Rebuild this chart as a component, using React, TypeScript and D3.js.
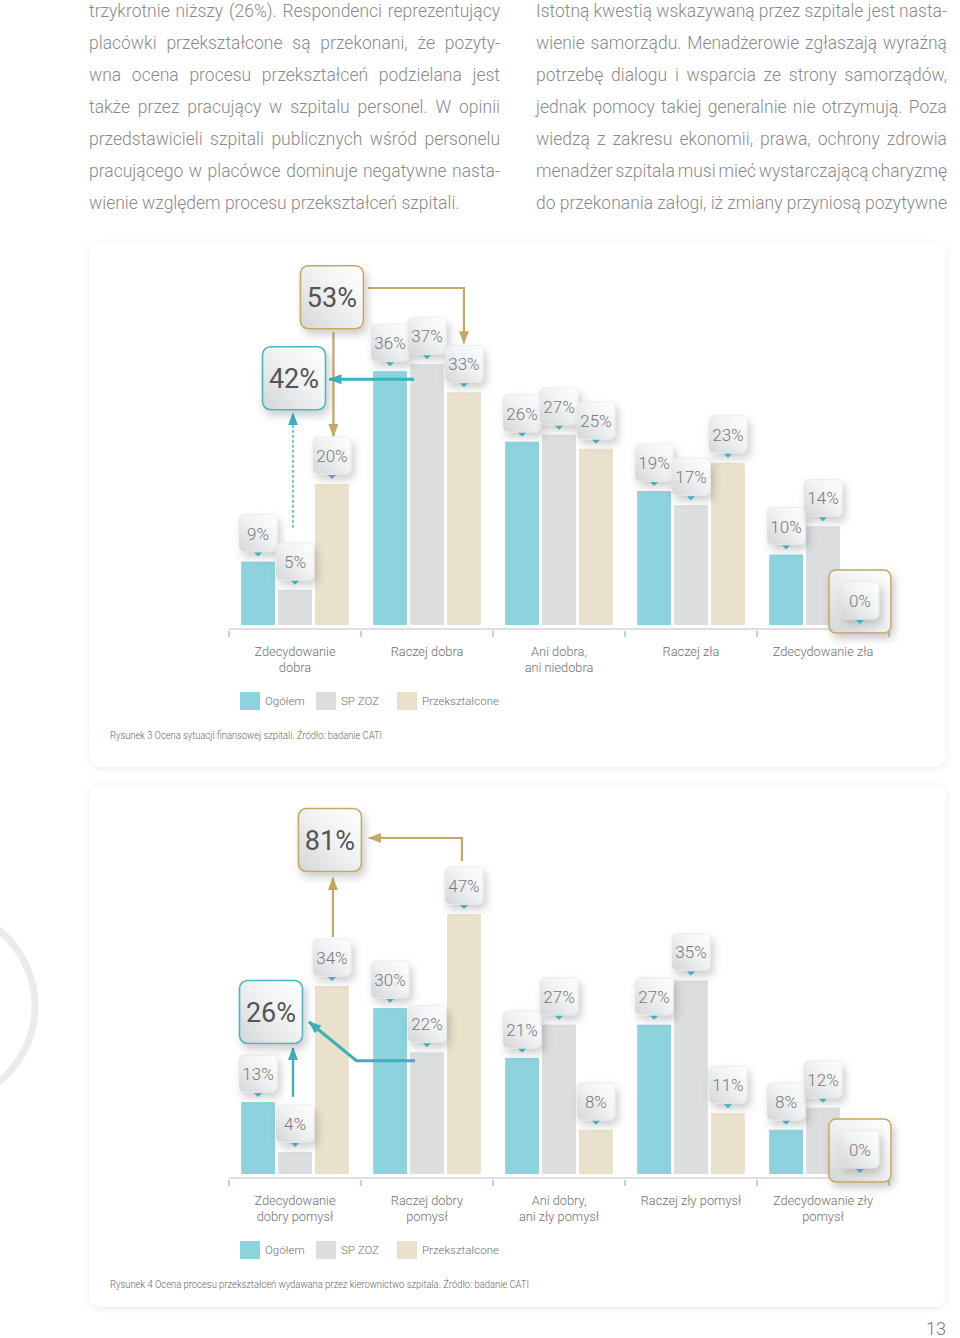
import React, { useEffect, useRef } from 'react';
import * as d3 from 'd3';

// series
const seriesNames = ['Ogółem', 'SP ZOZ', 'Przekształcone'];
const seriesColors = ['#8cd3dd', '#dcdddf', '#e9e1cb'];

// chart 1 - Ocena sytuacji finansowej
const categoryLabels1 = [
  ['Zdecydowanie', 'dobra'],
  ['Raczej dobra'],
  ['Ani dobra,', 'ani niedobra'],
  ['Raczej zła'],
  ['Zdecydowanie zła'],
];
const ogolem1 = [9, 36, 26, 19, 10];
const spzoz1 = [5, 37, 27, 17, 14];
const przeksztalcone1 = [20, 33, 25, 23, 0];
const caption1 = 'Rysunek 3 Ocena sytuacji finansowej szpitali. Źródło: badanie CATI';

// chart 2 - Ocena procesu przekształceń
const categoryLabels2 = [
  ['Zdecydowanie', 'dobry pomysł'],
  ['Raczej dobry', 'pomysł'],
  ['Ani dobry,', 'ani zły pomysł'],
  ['Raczej zły pomysł'],
  ['Zdecydowanie zły', 'pomysł'],
];
const ogolem2 = [13, 30, 21, 27, 8];
const spzoz2 = [4, 22, 27, 35, 12];
const przeksztalcone2 = [34, 47, 8, 11, 0];
const caption2 =
  'Rysunek 4 Ocena procesu przekształceń wydawana przez kierownictwo szpitala.  Źródło: badanie CATI';

// body text
const leftLines = [
  'trzykrotnie niższy (26%). Respondenci reprezentujący',
  'placówki przekształcone są przekonani, że pozyty-',
  'wna ocena procesu przekształceń podzielana jest',
  'także przez pracujący w szpitalu personel. W opinii',
  'przedstawicieli szpitali publicznych wśród personelu',
  'pracującego w placówce dominuje negatywne nasta-',
  'wienie względem procesu przekształceń szpitali.',
];
const rightLines = [
  'Istotną kwestią wskazywaną przez szpitale jest nasta-',
  'wienie samorządu. Menadżerowie zgłaszają wyraźną',
  'potrzebę dialogu i wsparcia ze strony samorządów,',
  'jednak pomocy takiej generalnie nie otrzymują. Poza',
  'wiedzą z zakresu ekonomii, prawa, ochrony zdrowia',
  'menadżer szpitala musi mieć wystarczającą charyzmę',
  'do przekonania załogi, iż zmiany przyniosą pozytywne',
];
const pageNumber = '13';

const FONT = "Roboto, 'Noto Sans', sans-serif";
const GOLD = '#c4a865';
const TEAL = '#3cb0bb';

export default function App() {
  const ref = useRef<SVGSVGElement>(null);

  useEffect(() => {
    const svg = d3.select(ref.current);
    svg.selectAll('*').remove();
    svg.attr('font-family', FONT);

    const defs = svg.append('defs');
    const cardShadow = defs
      .append('filter')
      .attr('id', 'cardShadow')
      .attr('x', '-5%')
      .attr('y', '-5%')
      .attr('width', '110%')
      .attr('height', '110%');
    cardShadow
      .append('feDropShadow')
      .attr('dx', 0)
      .attr('dy', 1)
      .attr('stdDeviation', 3)
      .attr('flood-color', '#000')
      .attr('flood-opacity', 0.09);

    const boxShadow = defs
      .append('filter')
      .attr('id', 'boxShadow')
      .attr('x', '-50%')
      .attr('y', '-50%')
      .attr('width', '200%')
      .attr('height', '200%');
    boxShadow
      .append('feDropShadow')
      .attr('dx', 3)
      .attr('dy', 5)
      .attr('stdDeviation', 4.5)
      .attr('flood-color', '#000')
      .attr('flood-opacity', 0.2);

    const grad = defs
      .append('linearGradient')
      .attr('id', 'boxGrad')
      .attr('x1', 0)
      .attr('y1', 1)
      .attr('x2', 1)
      .attr('y2', 0);
    grad.append('stop').attr('offset', 0).attr('stop-color', '#d3d6d8');
    grad.append('stop').attr('offset', 0.55).attr('stop-color', '#f1f2f3');
    grad.append('stop').attr('offset', 1).attr('stop-color', '#ffffff');

    const marker = (id: string, color: string) =>
      defs
        .append('marker')
        .attr('id', id)
        .attr('viewBox', '0 0 13 10')
        .attr('refX', 12)
        .attr('refY', 5)
        .attr('markerWidth', 13)
        .attr('markerHeight', 10)
        .attr('markerUnits', 'userSpaceOnUse')
        .attr('orient', 'auto')
        .append('path')
        .attr('d', 'M0,0 L13,5 L0,10 z')
        .attr('fill', color);
    marker('goldArrow', GOLD);
    marker('tealArrow', TEAL);

    // decorative ring at left edge
    svg
      .append('circle')
      .attr('cx', -63)
      .attr('cy', 1006)
      .attr('r', 98)
      .attr('fill', 'none')
      .attr('stroke', '#ebebeb')
      .attr('stroke-width', 7);

    // justified body text
    const textG = svg
      .append('g')
      .attr('font-size', 17.5)
      .attr('font-weight', 300)
      .attr('fill', '#8a8a8a');
    const writeColumn = (lines: string[], x: number, width: number, lastJustified: boolean) => {
      lines.forEach((line, li) => {
        const y = 17 + li * 32;
        const justify = lastJustified || li < lines.length - 1;
        if (!justify) {
          textG.append('text').attr('x', x).attr('y', y).text(line);
          return;
        }
        const words = line.split(' ');
        const nodes = words.map((w) => textG.append('text').attr('y', y).text(w));
        const widths = nodes.map((n) => (n.node() as SVGTextElement).getComputedTextLength());
        const gap = (width - d3.sum(widths)) / (words.length - 1);
        let cx = x;
        nodes.forEach((n, i) => {
          n.attr('x', cx);
          cx += widths[i] + gap;
        });
      });
    };
    writeColumn(leftLines, 89, 411, false);
    writeColumn(rightLines, 536, 411, true);

    svg
      .append('text')
      .attr('x', 946)
      .attr('y', 1335)
      .attr('text-anchor', 'end')
      .attr('font-size', 18)
      .attr('font-weight', 300)
      .attr('fill', '#777')
      .text(pageNumber);

    type ChartCfg = {
      cardY: number;
      cardH: number;
      baseline: number;
      yMax: number;
      yTop: number;
      labels: string[][];
      series: number[][];
      caption: string;
      captionWidth: number;
    };

    const drawChart = (cfg: ChartCfg) => {
      const g = svg.append('g');
      g.append('rect')
        .attr('x', 89)
        .attr('y', cfg.cardY)
        .attr('width', 857)
        .attr('height', cfg.cardH)
        .attr('rx', 12)
        .attr('fill', '#fff')
        .attr('filter', 'url(#cardShadow)');

      const x0 = d3.scaleBand<number>().domain(d3.range(cfg.labels.length)).range([229, 889]);
      const x1 = d3
        .scaleBand<number>()
        .domain(d3.range(cfg.series.length))
        .range([0, x0.bandwidth()])
        .paddingInner(0.085)
        .paddingOuter(0.33);
      const y = d3.scaleLinear().domain([0, cfg.yMax]).range([cfg.baseline, cfg.yTop]);
      const bw = x1.bandwidth();
      const cx = (i: number, s: number) => (x0(i) as number) + (x1(s) as number) + bw / 2;

      // bars
      cfg.series.forEach((vals, s) => {
        g.selectAll(null)
          .data(vals)
          .enter()
          .append('rect')
          .attr('x', (d, i) => (x0(i) as number) + (x1(s) as number))
          .attr('y', (d) => y(d))
          .attr('width', bw)
          .attr('height', (d) => cfg.baseline - y(d))
          .attr('fill', seriesColors[s]);
      });

      // axis
      g.append('line')
        .attr('x1', 229)
        .attr('x2', 889)
        .attr('y1', cfg.baseline + 4)
        .attr('y2', cfg.baseline + 4)
        .attr('stroke', '#dedfe0')
        .attr('stroke-width', 2);
      const tickXs = x0.domain().map((i) => x0(i) as number).concat([889]);
      g.selectAll(null)
        .data(tickXs)
        .enter()
        .append('line')
        .attr('x1', (d) => d)
        .attr('x2', (d) => d)
        .attr('y1', cfg.baseline + 6)
        .attr('y2', cfg.baseline + 12)
        .attr('stroke', '#86c6cc')
        .attr('stroke-width', 1.3);

      // category labels
      cfg.labels.forEach((lines, i) => {
        const t = g
          .append('text')
          .attr('text-anchor', 'middle')
          .attr('font-size', 12.8)
          .attr('font-weight', 300)
          .attr('fill', '#707070');
        lines.forEach((ln, k) => {
          t.append('tspan')
            .attr('x', (x0(i) as number) + x0.bandwidth() / 2)
            .attr('y', cfg.baseline + 31 + k * 16)
            .text(ln);
        });
      });

      // legend
      const legendX = [240, 316, 397];
      seriesNames.forEach((name, s) => {
        g.append('rect')
          .attr('x', legendX[s])
          .attr('y', cfg.baseline + 67)
          .attr('width', 20)
          .attr('height', 18)
          .attr('fill', seriesColors[s]);
        g.append('text')
          .attr('x', legendX[s] + 25)
          .attr('y', cfg.baseline + 80)
          .attr('font-size', 11.5)
          .attr('font-weight', 300)
          .attr('fill', '#707070')
          .text(name);
      });

      // caption
      g.append('text')
        .attr('x', 110)
        .attr('y', cfg.baseline + 114)
        .attr('font-size', 10)
        .attr('font-weight', 300)
        .attr('fill', '#666')
        .attr('textLength', cfg.captionWidth)
        .attr('lengthAdjust', 'spacingAndGlyphs')
        .text(cfg.caption);

      return { g, x0, x1, y, cx, bw };
    };

    const labelTop = (y: d3.ScaleLinear<number, number>, v: number) => y(v) - 47;

    const drawLabels = (
      g: d3.Selection<SVGGElement, unknown, null, undefined>,
      series: number[][],
      y: d3.ScaleLinear<number, number>,
      cx: (i: number, s: number) => number,
      baseline: number
    ) => {
      // highlight for zero values
      series.forEach((vals, s) =>
        vals.forEach((v, i) => {
          if (v !== 0) return;
          g.append('rect')
            .attr('x', cx(i, s) - 31)
            .attr('y', baseline - 55)
            .attr('width', 62)
            .attr('height', 63)
            .attr('rx', 7)
            .attr('fill', 'url(#boxGrad)')
            .attr('stroke', GOLD)
            .attr('stroke-width', 1.5)
            .attr('filter', 'url(#boxShadow)');
        })
      );
      const n = series[0].length;
      for (let i = 0; i < n; i++) {
        series.forEach((vals, s) => {
          const v = vals[i];
          const bx = cx(i, s);
          const top = v === 0 ? y(v) - 43 : labelTop(y, v);
          const lg = g.append('g');
          lg.append('rect')
            .attr('x', bx - 19)
            .attr('y', top)
            .attr('width', 38)
            .attr('height', 37)
            .attr('rx', 5)
            .attr('fill', 'url(#boxGrad)')
            .attr('stroke', '#e2e3e4')
            .attr('stroke-width', 0.6)
            .attr('filter', 'url(#boxShadow)');
          lg.append('text')
            .attr('x', bx)
            .attr('y', top + 25)
            .attr('text-anchor', 'middle')
            .attr('font-size', 17)
            .attr('font-weight', 300)
            .attr('fill', '#7a7a7a')
            .text(`${v}%`);
          lg.append('path')
            .attr(
              'd',
              `M${bx - 4},${top + 38} L${bx + 4},${top + 38} L${bx},${top + 42} Z`
            )
            .attr('fill', TEAL);
        });
      }
    };

    const bigBox = (
      g: d3.Selection<SVGGElement, unknown, null, undefined>,
      x: number,
      yc: number,
      text: string,
      color: string
    ) => {
      g.append('rect')
        .attr('x', x - 31.5)
        .attr('y', yc - 31.5)
        .attr('width', 63)
        .attr('height', 63)
        .attr('rx', 8)
        .attr('fill', 'url(#boxGrad)')
        .attr('stroke', color)
        .attr('stroke-width', 1.6)
        .attr('filter', 'url(#boxShadow)');
      g.append('text')
        .attr('x', x)
        .attr('y', yc + 10)
        .attr('text-anchor', 'middle')
        .attr('font-size', 27)
        .attr('fill', '#555')
        .text(text);
    };

    const arrow = (
      g: d3.Selection<SVGGElement, unknown, null, undefined>,
      pts: [number, number][],
      color: string,
      id: string,
      width: number,
      dash?: string
    ) => {
      g.append('path')
        .attr('d', d3.line()(pts))
        .attr('fill', 'none')
        .attr('stroke', color)
        .attr('stroke-width', width)
        .attr('stroke-dasharray', dash || null)
        .attr('marker-end', `url(#${id})`);
    };

    // ---------- chart 1 ----------
    const series1 = [ogolem1, spzoz1, przeksztalcone1];
    const c1 = drawChart({
      cardY: 243,
      cardH: 524,
      baseline: 625,
      yMax: 40,
      yTop: 343,
      labels: categoryLabels1,
      series: series1,
      caption: caption1,
      captionWidth: 272,
    });
    {
      const { g, y, cx, x0, x1 } = c1;
      const sumP = d3.sum(przeksztalcone1.slice(0, 2));
      const sumS = d3.sum(spzoz1.slice(0, 2));
      const b53x = cx(0, 2);
      const b53y = y(46.5);
      const b42x = cx(0, 1) - 1;
      const b42y = y(35);
      // gold arrows
      arrow(g, [[b53x + 36, y(47.8)], [cx(1, 2), y(47.8)], [cx(1, 2), labelTop(y, przeksztalcone1[1]) - 2]], GOLD, 'goldArrow', 2.2);
      arrow(g, [[b53x + 1.5, b53y + 35], [b53x + 1.5, labelTop(y, przeksztalcone1[0]) - 1]], GOLD, 'goldArrow', 2.2);
      // teal arrows
      arrow(g, [[(x0(1) as number) + (x1(1) as number) + 4, b42y + 1], [b42x + 35.5, b42y + 1]], TEAL, 'tealArrow', 3);
      arrow(g, [[cx(0, 1) - 2, labelTop(y, spzoz1[0]) - 15], [cx(0, 1) - 2, b42y + 35]], '#74c8d0', 'tealArrow', 2.2, '3,2');
      drawLabels(g, series1, y, cx, 625);
      bigBox(g, b53x, b53y, `${sumP}%`, GOLD);
      bigBox(g, b42x, b42y, `${sumS}%`, '#4fb4bf');
    }

    // ---------- chart 2 ----------
    const series2 = [ogolem2, spzoz2, przeksztalcone2];
    const c2 = drawChart({
      cardY: 785,
      cardH: 522,
      baseline: 1174,
      yMax: 50,
      yTop: 897.5,
      labels: categoryLabels2,
      series: series2,
      caption: caption2,
      captionWidth: 419,
    });
    {
      const { g, y, cx, x0, x1 } = c2;
      const sumP = d3.sum(przeksztalcone2.slice(0, 2));
      const sumS = d3.sum(spzoz2.slice(0, 2));
      const b81x = cx(0, 2) - 2;
      const b81y = y(60.4);
      const b26x = cx(0, 1) - 24;
      const b26y = y(29.3);
      arrow(g, [[cx(1, 2) - 2, labelTop(y, przeksztalcone2[1]) - 6], [cx(1, 2) - 2, b81y - 2], [b81x + 39, b81y - 2]], GOLD, 'goldArrow', 2.2);
      arrow(g, [[cx(0, 2) + 1, labelTop(y, przeksztalcone2[0]) - 2], [cx(0, 2) + 1, b81y + 38]], GOLD, 'goldArrow', 2.2);
      arrow(
        g,
        [
          [(x0(1) as number) + (x1(1) as number) + 5, y(20.5)],
          [cx(0, 2) + 24.5, y(20.5)],
          [b26x + 38, b26y + 10],
        ],
        TEAL,
        'tealArrow',
        3
      );
      arrow(g, [[cx(0, 1) - 2, labelTop(y, spzoz2[0]) - 8], [cx(0, 1) - 2, b26y + 36]], TEAL, 'tealArrow', 2.4);
      drawLabels(g, series2, y, cx, 1174);
      bigBox(g, b81x, b81y, `${sumP}%`, GOLD);
      bigBox(g, b26x, b26y, `${sumS}%`, '#4fb4bf');
    }
  }, []);

  return (
    <div style={{ position: 'absolute', left: 0, top: 0 }}>
      <svg ref={ref} width={960} height={1338} style={{ display: 'block', background: '#fff' }} />
    </div>
  );
}
